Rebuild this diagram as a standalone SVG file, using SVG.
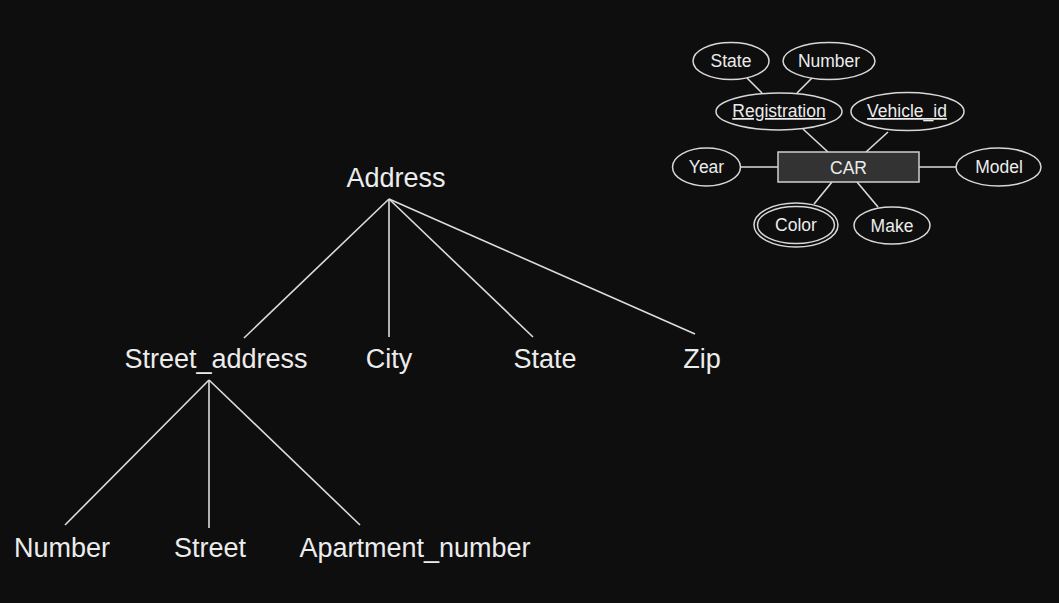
<svg xmlns="http://www.w3.org/2000/svg" width="1059" height="603" viewBox="0 0 1059 603">
<style>
.t{font-family:"Liberation Sans",Arial,sans-serif;fill:#ececec;text-anchor:middle}
.big{font-size:27px}
.sm{font-size:17.5px}
.ln{stroke:#dcdcdc;stroke-width:1.6;fill:none}
.el{stroke:#d8d8d8;stroke-width:1.5;fill:none}
.u{text-decoration:underline}
</style>
<rect width="1059" height="603" fill="#0e0e0e"/>
<g id="connectors">
<line class="ln" x1="389" y1="199" x2="244" y2="338"/>
<line class="ln" x1="389" y1="199" x2="389" y2="337"/>
<line class="ln" x1="389" y1="199" x2="533" y2="337"/>
<line class="ln" x1="389" y1="199" x2="695" y2="334"/>
<line class="ln" x1="209" y1="380" x2="65" y2="525"/>
<line class="ln" x1="209" y1="380" x2="209" y2="528"/>
<line class="ln" x1="209" y1="380" x2="360" y2="525"/>
<line class="ln" x1="747" y1="78" x2="762" y2="93"/>
<line class="ln" x1="812" y1="78" x2="797" y2="93"/>
<line class="ln" x1="803" y1="129" x2="828" y2="152"/>
<line class="ln" x1="888" y1="132" x2="866" y2="152"/>
<line class="ln" x1="740" y1="167" x2="778" y2="167"/>
<line class="ln" x1="919" y1="167" x2="956" y2="167"/>
<line class="ln" x1="832" y1="182" x2="814" y2="204"/>
<line class="ln" x1="857" y1="182" x2="878" y2="207"/>
</g>
<g id="address"><text class="t big" x="396" y="187">Address</text></g>
<g id="street_address"><text class="t big" x="216" y="368">Street_address</text></g>
<g id="city"><text class="t big" x="389" y="368">City</text></g>
<g id="state"><text class="t big" x="545" y="368">State</text></g>
<g id="zip"><text class="t big" x="702" y="368">Zip</text></g>
<g id="number"><text class="t big" x="62" y="557">Number</text></g>
<g id="street"><text class="t big" x="210" y="557">Street</text></g>
<g id="apartment_number"><text class="t big" x="415" y="557">Apartment_number</text></g>
<g id="car_state"><ellipse class="el" cx="731" cy="61" rx="38" ry="18.5"/><text class="t sm" x="731" y="67">State</text></g>
<g id="car_number"><ellipse class="el" cx="829" cy="61" rx="46" ry="18.5"/><text class="t sm" x="829" y="67">Number</text></g>
<g id="registration"><ellipse class="el" cx="779" cy="111.5" rx="63" ry="18.5"/><text class="t sm u" x="779" y="117">Registration</text></g>
<g id="vehicle_id"><ellipse class="el" cx="907.5" cy="111.5" rx="56.5" ry="19"/><text class="t sm u" x="907" y="117">Vehicle_id</text></g>
<g id="car"><rect x="778" y="152" width="141" height="30" fill="#333333" stroke="#d0d0d0" stroke-width="1.5"/><text class="t sm" x="848.5" y="174">CAR</text></g>
<g id="year"><ellipse class="el" cx="706.5" cy="167" rx="34" ry="19"/><text class="t sm" x="706.5" y="173">Year</text></g>
<g id="model"><ellipse class="el" cx="998.5" cy="167" rx="42.5" ry="19"/><text class="t sm" x="999" y="173">Model</text></g>
<g id="color"><ellipse class="el" cx="796" cy="225" rx="42" ry="22"/><ellipse class="el" cx="796" cy="225" rx="38.5" ry="18.5"/><text class="t sm" x="796" y="231">Color</text></g>
<g id="make"><ellipse class="el" cx="892" cy="225.5" rx="38" ry="18.5"/><text class="t sm" x="892" y="231.5">Make</text></g>
</svg>
